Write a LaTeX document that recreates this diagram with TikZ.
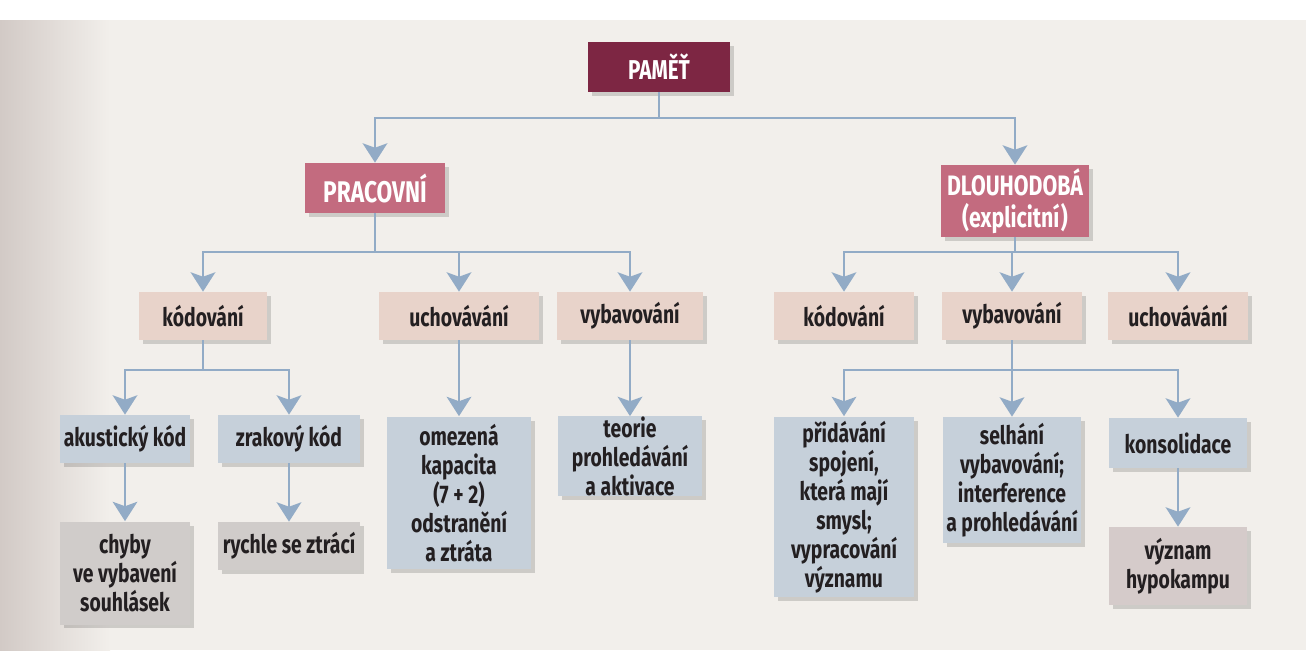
\documentclass[tikz,border=0pt]{standalone}
\usepackage{fontspec}
\setsansfont{Fira Sans}[FakeStretch=0.76]
\usetikzlibrary{arrows.meta,shadows}
\definecolor{pametred}{HTML}{7D2643}
\definecolor{rosebox}{HTML}{C36B7F}
\definecolor{peachbox}{HTML}{E8D3CA}
\definecolor{bluebox}{HTML}{C6D0DA}
\definecolor{greybox}{HTML}{D0CCCA}
\definecolor{mauvebox}{HTML}{D5CBCA}
\definecolor{linkblue}{HTML}{92ABC6}
\definecolor{inkdark}{HTML}{231F21}
\definecolor{paper}{HTML}{F2EFEB}
\definecolor{paperedge}{HTML}{D2CAC6}
\begin{document}
\begin{tikzpicture}[x=0.02cm,y=-0.02cm]
  \tikzset{box/.style={align=center, inner sep=0pt, text=inkdark,
      font=\sffamily\bfseries\fontsize{14.5}{16.5}\selectfont,
      drop shadow={shadow xshift=0.08cm, shadow yshift=-0.08cm, fill=black, opacity=0.15}},
    rootbox/.style={box, fill=pametred, text=white, font=\sffamily\bfseries\fontsize{15.5}{18}\selectfont},
    mainbox/.style={box, fill=rosebox, text=white, font=\sffamily\bfseries\fontsize{17}{19}\selectfont},
    stagebox/.style={box, fill=peachbox},
    infobox/.style={box, fill=bluebox},
    endbox/.style={box, fill=greybox},
    arr/.style={draw=linkblue, line width=1.5pt, -{Stealth[length=11pt, width=14pt, inset=2.5pt]}}}
  % page
  \useasboundingbox (0,0) rectangle (1306,650);
  \fill[white] (0,0) rectangle (1306,20);
  \fill[paper] (0,20) rectangle (1306,650);
  \shade[left color=paperedge, right color=paper] (0,20) rectangle (110,650);
  % boxes
  \node[rootbox, minimum width=2.84cm, minimum height=1cm] (pamet) at (659,67) {PAMĚŤ};
  \node[mainbox, minimum width=2.8cm, minimum height=1cm] (pracovni) at (375,188) {PRACOVNÍ};
  \node[mainbox, font=\sffamily\bfseries\fontsize{16}{18.5}\selectfont, minimum width=2.96cm, minimum height=1.44cm] (dlouho) at (1015,201) {DLOUHODOBÁ\\(explicitní)};
  \node[stagebox, minimum width=2.56cm, minimum height=0.96cm] (kodL) at (203,316) {kódování};
  \node[stagebox, minimum width=3.2cm, minimum height=0.96cm] (uchL) at (459,316) {uchovávání};
  \node[stagebox, minimum width=2.92cm, minimum height=0.96cm] (vybL) at (630,316) {vybavování};
  \node[stagebox, minimum width=2.8cm, minimum height=0.96cm] (kodR) at (844,316) {kódování};
  \node[stagebox, minimum width=2.8cm, minimum height=0.96cm] (vybR) at (1012,316) {vybavování};
  \node[stagebox, minimum width=2.8cm, minimum height=0.96cm] (uchR) at (1178,316) {uchovávání};
  \node[infobox, minimum width=2.6cm, minimum height=0.96cm] (akust) at (125,439) {akustický kód};
  \node[infobox, minimum width=2.84cm, minimum height=0.96cm] (zrak) at (289,439) {zrakový kód};
  \node[endbox, minimum width=2.6cm, minimum height=2.06cm] (chyby) at (125,573) {chyby\\ve vybavení\\souhlásek};
  \node[endbox, minimum width=2.84cm, minimum height=0.96cm] (rychle) at (289,546) {rychle se ztrácí};
  \node[infobox, minimum width=2.9cm, minimum height=3.06cm] (omez) at (459,493) {omezená\\kapacita\\(7 + 2)\\odstranění\\a ztráta};
  \node[infobox, minimum width=2.9cm, minimum height=1.56cm] (teorie) at (630,456) {teorie\\prohledávání\\a aktivace};
  \node[infobox, minimum width=2.8cm, minimum height=3.62cm] (prid) at (844,507) {přidávání\\spojení,\\která mají\\smysl;\\vypracování\\významu};
  \node[infobox, minimum width=2.76cm, minimum height=2.52cm] (selh) at (1012,480) {selhání\\vybavování;\\interference\\a prohledávání};
  \node[infobox, minimum width=2.78cm, minimum height=1cm] (kons) at (1178,443) {konsolidace};
  \node[box, fill=mauvebox, minimum width=2.78cm, minimum height=1.56cm] (vyzn) at (1178,566) {význam\\hypokampu};
  % junctions
  \coordinate (j1) at (0,118);
  \coordinate (j2) at (0,252);
  \coordinate (j3) at (0,370);
  % links
  \draw[arr] (pamet.south) -- (pamet.south |- j1) -| (pracovni.north);
  \draw[arr] (pamet.south) -- (pamet.south |- j1) -| (dlouho.north);
  \foreach \k in {kodL,uchL,vybL}
    \draw[arr] (pracovni.south) -- (pracovni.south |- j2) -| (\k.north);
  \foreach \k in {kodR,vybR,uchR}
    \draw[arr] (dlouho.south) -- (dlouho.south |- j2) -| (\k.north);
  \foreach \k in {akust,zrak}
    \draw[arr] (kodL.south) -- (kodL.south |- j3) -| (\k.north);
  \foreach \k in {prid,selh,kons}
    \draw[arr] (vybR.south) -- (vybR.south |- j3) -| (\k.north);
  \draw[arr] (uchL) -- (omez);
  \draw[arr] (vybL) -- (teorie);
  \draw[arr] (akust) -- (chyby);
  \draw[arr] (zrak) -- (rychle);
  \draw[arr] (kons) -- (vyzn);
\end{tikzpicture}
\end{document}
